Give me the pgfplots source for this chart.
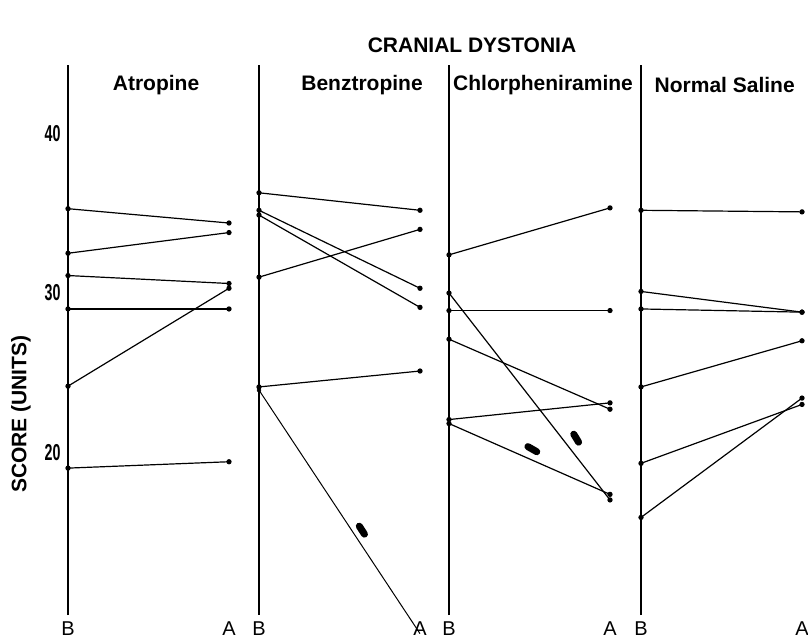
\documentclass[border=0pt]{standalone}
\usepackage{fontspec}
\setmainfont{Liberation Sans}
\usepackage{graphicx}
\usepackage{pgfplots}
\pgfplotsset{compat=1.18}
\newcommand{\tk}[1]{\scalebox{0.62}[1]{\fontsize{23bp}{26bp}\selectfont\bfseries #1}}
\begin{document}
\begin{tikzpicture}
\useasboundingbox (0,0) rectangle (808bp,639bp);
\pgfplotsset{
  panel/.style={
    scale only axis, width=161bp, height=550bp,
    xmin=0, xmax=1, ymin=9.77, ymax=44.33,
    clip=false, anchor=south west,
    axis x line*=bottom, axis y line*=left,
    x axis line style={draw=none},
    y axis line style={-, line width=1.7bp},
    major tick length=0pt,
    xtick={0,1}, xticklabels={B,A},
    xticklabel style={font=\fontsize{20bp}{24bp}\selectfont, yshift=-3bp},
    ytick={20,30,40}, yticklabels={},
    cycle list={black, solid, line width=1.2bp, mark=*, mark size=2bp, mark options={solid, fill=black}\\},
    title style={at={(rel axis cs:#1,0.953)}, anchor=center, font=\fontsize{21bp}{25bp}\selectfont\bfseries},
  },
}
\node[font=\fontsize{21bp}{25bp}\selectfont\bfseries] at (472bp,594bp) {CRANIAL DYSTONIA};

% Atropine
\begin{axis}[panel=0.547, at={(68bp,24bp)}, title={Atropine},
  yticklabels={\tk{20},\tk{30},\tk{40}}, yticklabel style={xshift=-4bp},
  ylabel={SCORE (UNITS)},
  ylabel style={at={(rel axis cs:-0.292,0.365)}, anchor=center, font=\fontsize{21bp}{25bp}\selectfont\bfseries}]
\addplot coordinates {(0,35.3) (1,34.4)};
\addplot coordinates {(0,32.5) (1,33.8)};
\addplot coordinates {(0,31.1) (1,30.6)};
\addplot coordinates {(0,29.0) (1,29.0)};
\addplot coordinates {(0,24.15) (1,30.3)};
\addplot coordinates {(0,19.0) (1,19.4)};
\end{axis}

% Benztropine
\begin{axis}[panel=0.64, at={(259bp,24bp)}, title={Benztropine}]
\addplot coordinates {(0,36.3) (1,35.2)};
\addplot coordinates {(0,35.2) (1,30.3)};
\addplot coordinates {(0,34.9) (1,29.1)};
\addplot coordinates {(0,31.0) (1,34.0)};
\addplot coordinates {(0,24.1) (1,25.1)};
\addplot[black, line width=1bp, mark=none] coordinates {(0,23.9) (1,8.6)};
\addplot[black, only marks, mark=*, mark size=2bp] coordinates {(0,23.9)};
\draw[line width=7bp, line cap=round] (axis cs:0.623,15.35) -- (axis cs:0.655,14.85);
\end{axis}

% Chlorpheniramine
\begin{axis}[panel=0.584, at={(449bp,24bp)}, title={Chlorpheniramine}]
\addplot coordinates {(0,32.4) (1,35.35)};
\addplot coordinates {(0,30.0) (1,17.0)};
\addplot coordinates {(0,28.9) (1,28.9)};
\addplot coordinates {(0,27.1) (1,22.7)};
\addplot coordinates {(0,22.05) (1,23.1)};
\addplot coordinates {(0,21.8) (1,17.35)};
\draw[line width=7bp, line cap=round] (axis cs:0.49,20.35) -- (axis cs:0.545,20.03);
\draw[line width=7bp, line cap=round] (axis cs:0.775,21.13) -- (axis cs:0.805,20.63);
\end{axis}

% Normal Saline
\begin{axis}[panel=0.52, at={(641bp,24bp)}, title={Normal Saline}]
\addplot coordinates {(0,35.2) (1,35.1)};
\addplot coordinates {(0,30.1) (1,28.8)};
\addplot coordinates {(0,29.0) (1,28.8)};
\addplot coordinates {(0,24.1) (1,27.0)};
\addplot coordinates {(0,19.3) (1,23.0)};
\addplot coordinates {(0,15.9) (1,23.4)};
\end{axis}
\end{tikzpicture}
\end{document}
